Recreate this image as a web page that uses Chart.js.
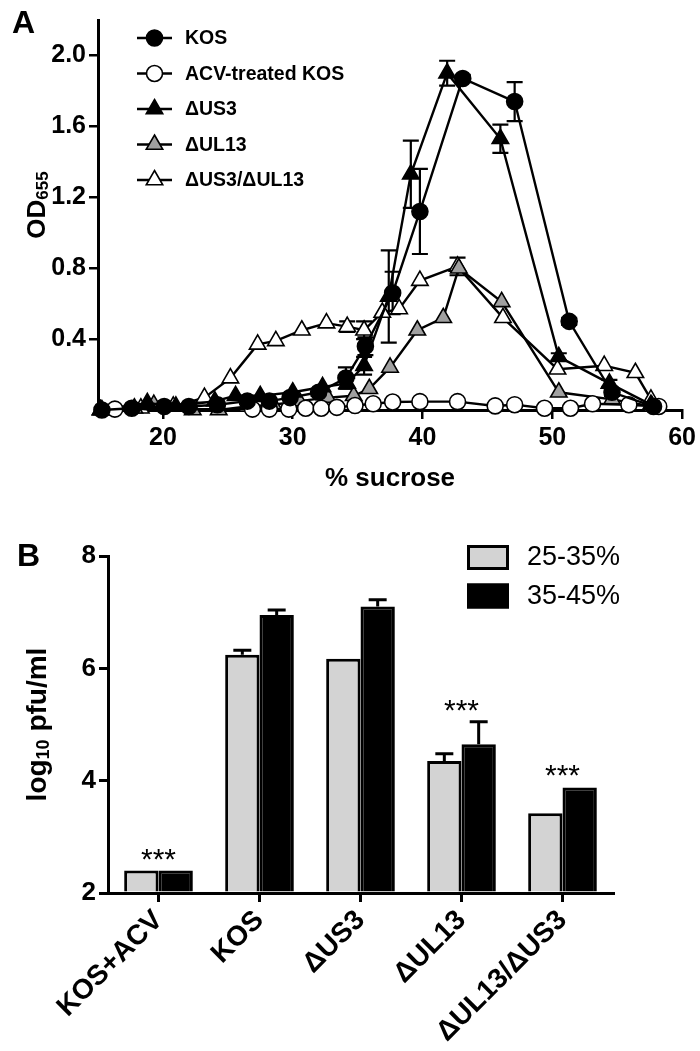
<!DOCTYPE html>
<html>
<head>
<meta charset="utf-8">
<script src="https://cdn.jsdelivr.net/npm/chart.js@4.4.0/dist/chart.umd.min.js"></script>
<style>
  body { margin: 0; background: #fff; }
  canvas { display: block; }
</style>
</head>
<body>
<canvas id="chartA" width="700" height="500"></canvas>
<canvas id="chartB" width="700" height="551"></canvas>
<script>
const FONT = '"Liberation Sans", Arial, Helvetica, sans-serif';

// ---- Panel A: OD655 of gradient fractions (% sucrose) ----
const kosX   = [15.3, 17.6, 20.1, 22.0, 24.2, 26.5, 28.2, 29.8, 32.0, 34.1, 35.6, 37.7, 39.8, 43.1, 47.1, 51.3, 54.6, 57.8];
const kosY   = [0.00, 0.01, 0.02, 0.02, 0.03, 0.05, 0.05, 0.07, 0.10, 0.18, 0.36, 0.66, 1.12, 1.87, 1.74, 0.50, 0.10, 0.02];
const kosErr = [0, 0, 0, 0, 0, 0, 0, 0, 0.02, 0.06, 0.05, 0.12, 0.24, 0.02, 0.11, 0.02, 0.02, 0];

const acvX = [16.3, 26.9, 28.2, 29.7, 31.0, 32.2, 33.4, 34.8, 36.2, 37.7, 39.8, 42.7, 45.6, 47.1, 49.4, 51.4, 53.1, 55.9, 58.2];
const acvY = [0.005, 0.005, 0.005, 0.005, 0.01, 0.01, 0.015, 0.025, 0.035, 0.045, 0.047, 0.047, 0.023, 0.03, 0.01, 0.01, 0.035, 0.03, 0.02];

const us3X   = [15.2, 18.8, 21.0, 24.0, 25.6, 27.5, 30.0, 32.3, 34.2, 35.5, 37.4, 39.1, 41.9, 46.0, 50.5, 54.4, 57.6];
const us3Y   = [0.00, 0.04, 0.02, 0.05, 0.08, 0.08, 0.10, 0.13, 0.15, 0.25, 0.64, 1.33, 1.90, 1.53, 0.30, 0.15, 0.03];
const us3Err = [0, 0, 0, 0, 0, 0, 0, 0, 0.03, 0.05, 0.26, 0.19, 0.07, 0.08, 0.02, 0.02, 0];

const ul13X = [15.2, 17.8, 19.3, 22.3, 24.3, 26.5, 28.5, 30.5, 32.7, 34.7, 35.9, 37.5, 39.6, 41.6, 42.8, 46.1, 50.5, 54.6, 57.7];
const ul13Y = [0.00, 0.01, 0.03, 0.00, 0.00, 0.02, 0.03, 0.05, 0.07, 0.08, 0.12, 0.24, 0.45, 0.52, 0.80, 0.61, 0.10, 0.06, 0.02];

const dblX   = [15.3, 18.3, 20.8, 23.2, 25.2, 27.3, 28.7, 30.7, 32.6, 34.2, 35.5, 36.9, 38.2, 39.8, 42.7, 46.2, 50.4, 54.0, 56.4, 57.6];
const dblY   = [0.00, 0.01, 0.02, 0.07, 0.18, 0.37, 0.39, 0.45, 0.49, 0.47, 0.45, 0.55, 0.57, 0.73, 0.81, 0.52, 0.23, 0.25, 0.21, 0.06];
const dblErr = [0, 0, 0, 0, 0, 0, 0, 0, 0, 0.03, 0.05, 0, 0, 0, 0.05, 0, 0, 0, 0, 0];

const sucroseTicks = [20, 30, 40, 50, 60];
const odTicks = [0.4, 0.8, 1.2, 1.6, 2.0];

// ---- Panel B: infectivity of pooled fractions ----
const groups   = ['KOS+ACV', 'KOS', 'ΔUS3', 'ΔUL13', 'ΔUL13/ΔUS3'];
const lowPool  = [2.4, 6.24, 6.17, 4.35, 3.42];   // 25-35%
const lowErr   = [0, 0.08, 0, 0.13, 0];
const highPool = [2.4, 6.95, 7.10, 4.65, 3.88];   // 35-45%
const highErr  = [0, 0.09, 0.12, 0.40, 0];
const starred  = [true, false, false, true, true];
const pfuTicks = [2, 4, 6, 8];

Chart.defaults.color = '#000';
Chart.defaults.font.family = FONT;

function toPoints(xs, ys) {
  return xs.map((x, i) => ({ x: x, y: ys[i] }));
}

function lineSet(label, xs, ys, errs, style, fill, radius) {
  return {
    label: label,
    data: toPoints(xs, ys),
    errors: errs,
    borderColor: '#000',
    borderWidth: 2.4,
    pointStyle: style,
    pointRadius: radius,
    pointBackgroundColor: fill,
    pointBorderColor: '#000',
    pointBorderWidth: 1.6,
    tension: 0,
    clip: false
  };
}

// draws "main" + subscript text, rotated or not, centred on (cx, cy)
function subText(ctx, main, sub, rest, cx, cy, size, rotate) {
  ctx.save();
  ctx.translate(cx, cy);
  if (rotate) ctx.rotate(-Math.PI / 2);
  const big = 'bold ' + size + 'px ' + FONT;
  const small = 'bold ' + Math.round(size * 0.66) + 'px ' + FONT;
  ctx.font = big; const w1 = ctx.measureText(main).width; const w3 = ctx.measureText(rest).width;
  ctx.font = small; const w2 = ctx.measureText(sub).width;
  let x = -(w1 + w2 + w3) / 2;
  const base = size * 0.36;
  ctx.fillStyle = '#000';
  ctx.textBaseline = 'alphabetic';
  ctx.textAlign = 'left';
  ctx.font = big; ctx.fillText(main, x, base); x += w1;
  ctx.font = small; ctx.fillText(sub, x, base + size * 0.12); x += w2;
  ctx.font = big; ctx.fillText(rest, x, base);
  ctx.restore();
}

function marker(ctx, style, radius, fill, x, y) {
  ctx.save();
  ctx.fillStyle = fill;
  ctx.strokeStyle = '#000';
  ctx.lineWidth = 1.6;
  Chart.helpers.drawPoint(ctx, { pointStyle: style, radius: radius, rotation: 0, borderWidth: 1.6 }, x, y);
  ctx.restore();
}

const panelAExtras = {
  id: 'panelAExtras',
  beforeDatasetsDraw(chart) {
    const ctx = chart.ctx, xs = chart.scales.x, ys = chart.scales.y;
    ctx.save();
    ctx.strokeStyle = '#000';
    ctx.lineWidth = 2.2;
    chart.data.datasets.forEach(ds => {
      (ds.errors || []).forEach((e, j) => {
        if (!e) return;
        const p = ds.data[j];
        const px = xs.getPixelForValue(p.x);
        const top = ys.getPixelForValue(p.y + e);
        const bot = ys.getPixelForValue(Math.max(p.y - e, 0));
        ctx.beginPath();
        ctx.moveTo(px, top); ctx.lineTo(px, bot);
        ctx.moveTo(px - 8, top); ctx.lineTo(px + 8, top);
        ctx.moveTo(px - 8, bot); ctx.lineTo(px + 8, bot);
        ctx.stroke();
      });
    });
    ctx.restore();
  },
  afterDraw(chart) {
    const ctx = chart.ctx, area = chart.chartArea;
    // legend
    chart.data.datasets.forEach((ds, i) => {
      const y = 38 + i * 35.5;
      ctx.save();
      ctx.strokeStyle = '#000';
      ctx.lineWidth = 2.4;
      ctx.beginPath(); ctx.moveTo(137, y); ctx.lineTo(172, y); ctx.stroke();
      ctx.restore();
      marker(ctx, ds.pointStyle, ds.pointRadius, ds.pointBackgroundColor, 154.5, y);
      ctx.save();
      ctx.font = 'bold 19.5px ' + FONT;
      ctx.fillStyle = '#000';
      ctx.textBaseline = 'middle';
      ctx.fillText(ds.label, 185, y + 1);
      ctx.restore();
    });
    // panel letter and axis titles
    ctx.save();
    ctx.fillStyle = '#000';
    ctx.font = 'bold 32px ' + FONT;
    ctx.fillText('A', 12, 33);
    ctx.font = 'bold 26px ' + FONT;
    ctx.textAlign = 'center';
    ctx.fillText('% sucrose', (area.left + area.right) / 2, 486);
    ctx.restore();
    subText(ctx, 'OD', '655', '', 36, (area.top + area.bottom) / 2 - 10, 26, true);
  }
};

new Chart(document.getElementById('chartA'), {
  type: 'line',
  data: {
    datasets: [
      lineSet('KOS', kosX, kosY, kosErr, 'circle', '#000', 8),
      lineSet('ACV-treated KOS', acvX, acvY, null, 'circle', '#fff', 8),
      lineSet('ΔUS3', us3X, us3Y, us3Err, 'triangle', '#000', 9.5),
      lineSet('ΔUL13', ul13X, ul13Y, null, 'triangle', '#a0a0a0', 9.5),
      lineSet('ΔUS3/ΔUL13', dblX, dblY, dblErr, 'triangle', '#fff', 9.5)
    ]
  },
  options: {
    responsive: false,
    animation: false,
    devicePixelRatio: 1,
    layout: { padding: { top: 20, right: 16, left: 0, bottom: 0 } },
    plugins: { legend: { display: false }, tooltip: { enabled: false } },
    scales: {
      x: {
        type: 'linear',
        min: 15,
        max: 60,
        afterBuildTicks: s => { s.ticks = sucroseTicks.map(v => ({ value: v })); },
        afterFit: s => { s.height = 90; },
        ticks: { font: { size: 25, weight: 'bold' }, padding: 4, callback: v => v },
        grid: { drawOnChartArea: false, drawTicks: true, tickLength: 9, color: '#000', lineWidth: 2.5 },
        border: { display: true, color: '#000', width: 3 }
      },
      y: {
        min: 0,
        max: 2.2,
        afterBuildTicks: s => { s.ticks = odTicks.map(v => ({ value: v })); },
        afterFit: s => { s.width = 98; },
        ticks: { font: { size: 25, weight: 'bold' }, padding: 3, callback: v => v.toFixed(1) },
        grid: { drawOnChartArea: false, drawTicks: true, tickLength: 9, color: '#000', lineWidth: 2.5 },
        border: { display: true, color: '#000', width: 3 }
      }
    }
  },
  plugins: [panelAExtras]
});

const panelBExtras = {
  id: 'panelBExtras',
  afterDatasetsDraw(chart) {
    const ctx = chart.ctx, ys = chart.scales.y, xs = chart.scales.x;
    const errs = [lowErr, highErr];
    ctx.save();
    ctx.strokeStyle = '#000';
    ctx.lineWidth = 3;
    chart.data.datasets.forEach((ds, i) => {
      chart.getDatasetMeta(i).data.forEach((bar, j) => {
        const e = errs[i][j];
        if (!e) return;
        const top = ys.getPixelForValue(ds.data[j] + e);
        ctx.beginPath();
        ctx.moveTo(bar.x, bar.y); ctx.lineTo(bar.x, top);
        ctx.moveTo(bar.x - 9, top); ctx.lineTo(bar.x + 9, top);
        ctx.stroke();
      });
    });
    // significance stars
    ctx.fillStyle = '#000';
    ctx.font = '30px ' + FONT;
    ctx.textAlign = 'center';
    ctx.textBaseline = 'alphabetic';
    groups.forEach((g, j) => {
      if (!starred[j]) return;
      const peak = Math.max(lowPool[j] + lowErr[j], highPool[j] + highErr[j]);
      const cy = ys.getPixelForValue(peak) - 19;
      ctx.fillText('***', xs.getPixelForValue(j), cy + 17);
    });
    ctx.restore();
  },
  afterDraw(chart) {
    const ctx = chart.ctx, area = chart.chartArea;
    ctx.save();
    // legend
    chart.data.datasets.forEach((ds, i) => {
      const top = 45 + i * 38.5;
      ctx.fillStyle = ds.backgroundColor;
      ctx.fillRect(467, top, 42, 25);
      ctx.strokeStyle = '#000';
      ctx.lineWidth = 3;
      ctx.strokeRect(468.5, top + 1.5, 39, 22);
      ctx.fillStyle = '#000';
      ctx.font = '27px ' + FONT;
      ctx.textBaseline = 'middle';
      ctx.fillText(ds.label, 527, top + 13);
    });
    ctx.font = 'bold 32px ' + FONT;
    ctx.textBaseline = 'alphabetic';
    ctx.fillText('B', 17, 66);
    ctx.restore();
    subText(ctx, 'log', '10', ' pfu/ml', 36, (area.top + area.bottom) / 2, 28, true);
  }
};

new Chart(document.getElementById('chartB'), {
  type: 'bar',
  data: {
    labels: groups,
    datasets: [
      { label: '25-35%', data: lowPool, backgroundColor: '#d3d3d3', borderColor: '#000', borderWidth: 3, base: 2 },
      { label: '35-45%', data: highPool, backgroundColor: '#000', borderColor: '#000', borderWidth: 3, base: 2 }
    ]
  },
  options: {
    responsive: false,
    animation: false,
    devicePixelRatio: 1,
    categoryPercentage: 0.68,
    barPercentage: 1.0,
    layout: { padding: { top: 56, right: 87, left: 0, bottom: 0 } },
    plugins: { legend: { display: false }, tooltip: { enabled: false } },
    scales: {
      x: {
        afterFit: s => { s.height = 158; },
        ticks: { font: { size: 28, weight: 'bold' }, minRotation: 45, maxRotation: 45, padding: 2 },
        grid: { offset: false, drawOnChartArea: false, drawTicks: true, tickLength: 9, color: '#000', lineWidth: 3 },
        border: { display: true, color: '#000', width: 3 }
      },
      y: {
        min: 2,
        max: 8,
        afterBuildTicks: s => { s.ticks = pfuTicks.map(v => ({ value: v })); },
        afterFit: s => { s.width = 108; },
        ticks: { font: { size: 26, weight: 'bold' }, padding: 3 },
        grid: { drawOnChartArea: false, drawTicks: true, tickLength: 9, color: '#000', lineWidth: 3 },
        border: { display: true, color: '#000', width: 3 }
      }
    }
  },
  plugins: [panelBExtras]
});
</script>
</body>
</html>
